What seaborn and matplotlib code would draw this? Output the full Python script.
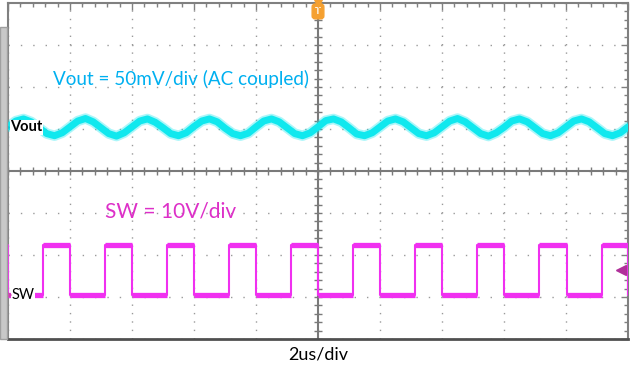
import matplotlib
matplotlib.use("Agg")
import matplotlib.pyplot as plt
import seaborn as sns
import numpy as np
import pandas as pd
from matplotlib.patches import Rectangle

sns.set_style("white")
plt.rcParams['font.family'] = ['Lato', 'DejaVu Sans']

# scope screen: 10 x 8 divisions, time in divisions (2us/div), volts in divisions
vout_t = np.arange(0, 10.001, 0.125)
vout_v = [1.05, 1.19, 1.24, 1.17, 1.03, 0.89, 0.84, 0.91,
          1.05, 1.19, 1.25, 1.17, 1.03, 0.89, 0.83, 0.91,
          1.05, 1.19, 1.24, 1.16, 1.03, 0.89, 0.84, 0.91,
          1.06, 1.19, 1.24, 1.17, 1.02, 0.89, 0.84, 0.90,
          1.05, 1.19, 1.24, 1.17, 1.03, 0.89, 0.84, 0.91,
          1.05, 1.20, 1.24, 1.17, 1.03, 0.88, 0.84, 0.91,
          1.05, 1.19, 1.24, 1.17, 1.03, 0.89, 0.84, 0.91,
          1.05, 1.19, 1.25, 1.17, 1.03, 0.89, 0.83, 0.91,
          1.04, 1.19, 1.24, 1.17, 1.03, 0.89, 0.84, 0.91,
          1.05, 1.19, 1.24, 1.17, 1.03, 0.89, 0.84, 0.91,
          1.05]

sw_t = [0.0, 0.0, 0.565, 1.0, 1.565, 2.0, 2.565, 3.0, 3.565, 4.0, 4.565,
        5.0, 5.565, 6.0, 6.565, 7.0, 7.565, 8.0, 8.565, 9.02, 9.58, 10.0]
sw_high = -1.76
sw_low = -2.95
sw_v = [sw_high, sw_low] + [sw_high, sw_low] * 10

vout_df = pd.DataFrame({"t": vout_t, "v": vout_v})
sw_df = pd.DataFrame({"t": sw_t, "v": sw_v})

fig = plt.figure(figsize=(6.31, 3.73), dpi=100)
ax = fig.add_axes([8/631, 34/373, 620/631, 336/373])
ax.set_xlim(0, 10)
ax.set_ylim(-4, 4)

# dotted graticule
ax.set_xticks(np.arange(0, 11, 1))
ax.set_yticks(np.arange(-4, 5, 1))
ax.set_xticks(np.arange(0, 10.01, 0.2), minor=True)
ax.set_yticks(np.arange(-4, 4.01, 0.2), minor=True)
ax.xaxis.grid(True, which='major', color='#9a9a9a', linewidth=1.0, linestyle=(0, (1, 5.05)))
ax.yaxis.grid(True, which='major', color='#9a9a9a', linewidth=1.0, linestyle=(0, (1, 7.9)))
ax.tick_params(which='both', direction='in', top=True, right=True, color='#808080',
               labelbottom=False, labelleft=False)
ax.tick_params(which='major', length=5, width=1)
ax.tick_params(which='minor', length=3, width=1)
for s in ax.spines.values():
    s.set_color('#808080')
    s.set_linewidth(1.5)
ax.spines['bottom'].set_color('#505050')
ax.spines['bottom'].set_linewidth(2)

# center axes with tick marks
ax.axhline(0, color='#7a7a7a', lw=1.5, zorder=1)
ax.axvline(5, color='#7a7a7a', lw=1.5, zorder=1)
ax.scatter(np.arange(0, 10.01, 0.2), np.zeros(51), marker='|', s=30, color='#7a7a7a', lw=1, zorder=1)
ax.scatter(np.full(41, 5.0), np.arange(-4, 4.01, 0.2), marker='_', s=40, color='#7a7a7a', lw=1, zorder=1)

# traces
sns.lineplot(data=vout_df, x="t", y="v", sort=False, estimator=None, ax=ax,
             color='#10e8f0', lw=7.5, alpha=0.35, zorder=3)
sns.lineplot(data=vout_df, x="t", y="v", sort=False, estimator=None, ax=ax,
             color='#10e8ee', lw=5, zorder=3)
sns.lineplot(data=sw_df, x="t", y="v", sort=False, estimator=None, ax=ax,
             color='#f030f0', lw=1.5, drawstyle='steps-post', zorder=3)
ax.hlines([sw_high] * 10, [0.565, 1.565, 2.565, 3.565, 4.565, 5.565, 6.565, 7.565, 8.565, 9.58],
          [1.0, 2.0, 3.0, 4.0, 5.0, 6.0, 7.0, 8.0, 9.02, 10.0], color='#f030f0', lw=3.8, zorder=3)
ax.hlines([sw_low] * 10, [0.0, 1.0, 2.0, 3.0, 4.0, 5.0, 6.0, 7.0, 8.0, 9.02],
          [0.565, 1.565, 2.565, 3.565, 4.565, 5.565, 6.565, 7.565, 8.565, 9.58], color='#f030f0', lw=3.8, zorder=3)
ax.set_xlabel("")
ax.set_ylabel("")

# channel labels and markers
ax.text(0.04, 1.04, "Vout", fontsize=10.5, fontweight='bold', color='black', va='center', ha='left',
        zorder=5, bbox=dict(fc='white', ec='none', pad=0.5))
ax.text(0.06, -2.95, "SW", fontsize=10.5, color='black', va='center', ha='left',
        zorder=5, bbox=dict(fc='white', ec='none', pad=0.5))
ax.plot([-0.06], [1.04], marker='>', ms=7, color='#00c8e0', clip_on=False, zorder=6)
ax.plot([-0.05], [-2.95], marker='>', ms=8, mfc='none', mec='#d040b0', mew=1.5, clip_on=False, zorder=6)
ax.plot([9.88], [-2.36], marker='<', ms=7, color='#b0309a', zorder=6)

# trigger marker
ax.text(5, 3.8, "T", fontsize=7, color='white', ha='center', va='center', fontweight='bold',
        bbox=dict(boxstyle='round,pad=0.3', fc='#f5a030', ec='#f5a030'), zorder=6)
ax.plot([5], [4.0], marker='v', ms=6, color='#f5a030', clip_on=False, zorder=6)

# annotations
ax.text(0.72, 2.2, "Vout = 50mV/div (AC coupled)", fontsize=13.6, color='#00b0f0', va='center', ha='left')
ax.text(1.56, -0.97, "SW = 10V/div", fontsize=15, color='#dd30c8', va='center', ha='left')
fig.text(318/631, 1 - 355/373, "2us/div", fontsize=13, color='black', ha='center', va='center')

# left bezel
fig.patches.append(Rectangle((0, 34/373), 7/631, 339/373 - 34/373 + 0.02, transform=fig.transFigure,
                             fc='#c8c8c8', ec='#a0a0a0', lw=1, zorder=0))

fig.savefig("out.png", dpi=100)
